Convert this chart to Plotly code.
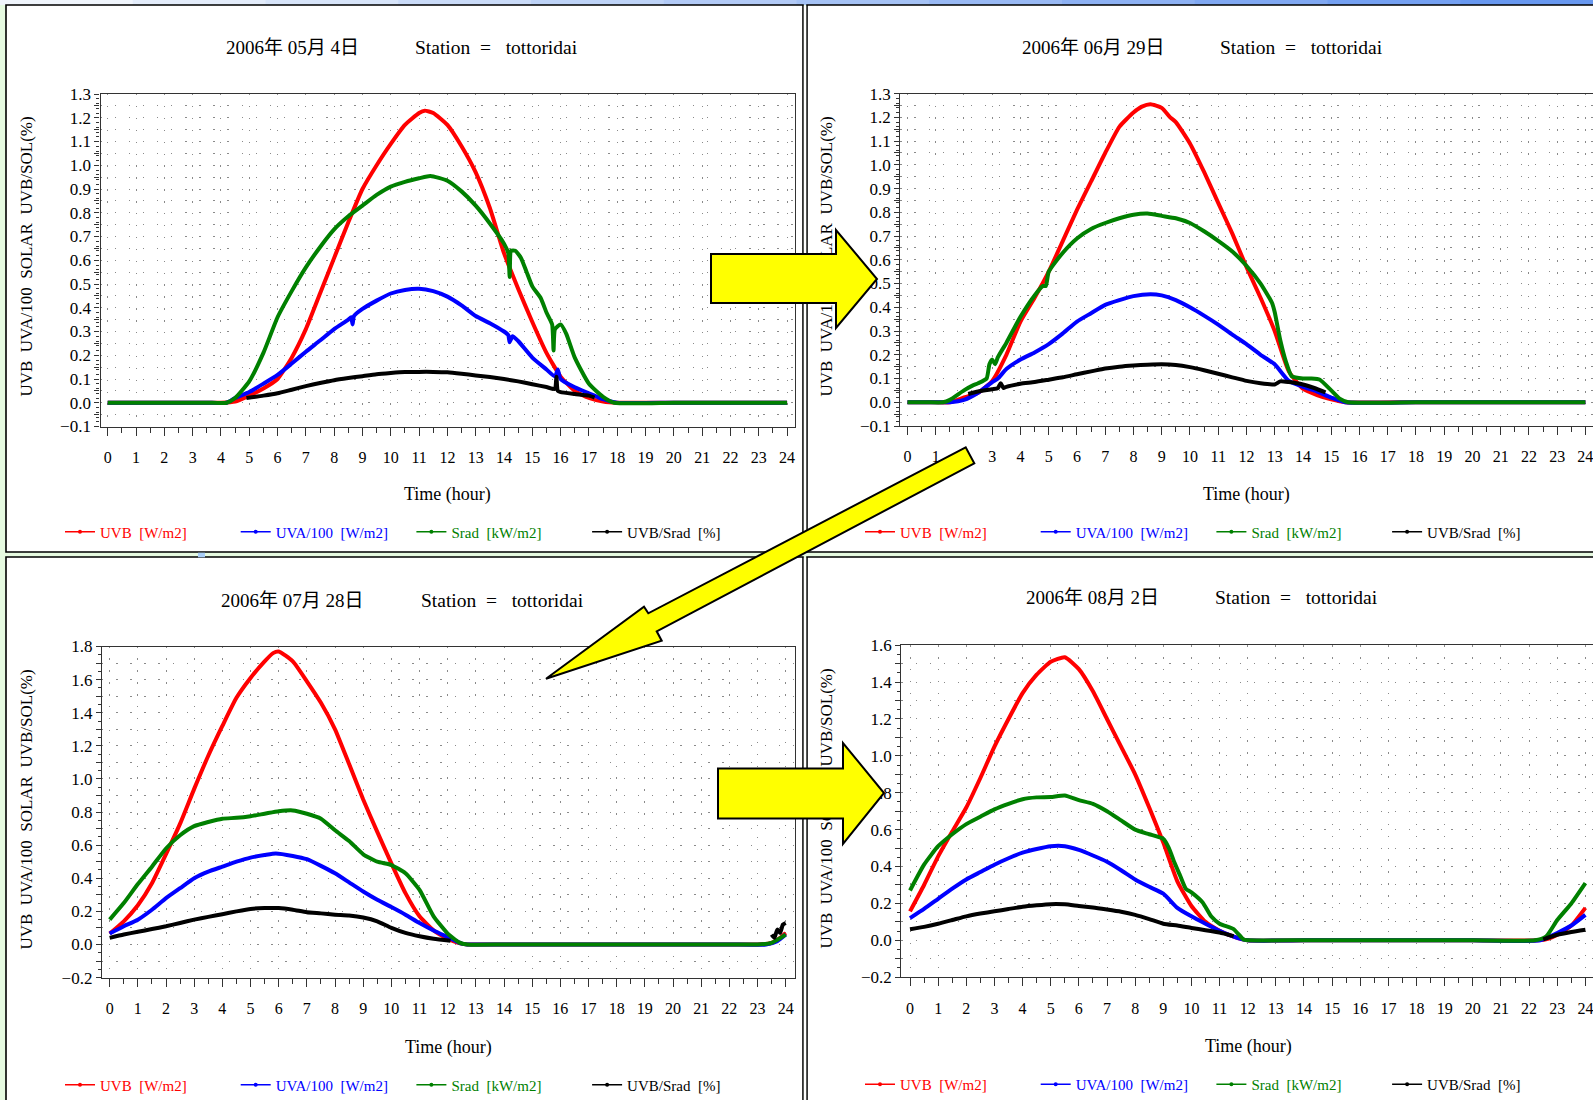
import plotly.graph_objects as go

W, H = 1593, 1100
FONT = "Liberation Serif, 'Noto Sans CJK JP', serif"
NB = "\u00a0"

# ---------------- data : 2006-05-04 ----------------
may04_uvb_h = [0, 2.0, 3.5, 4.0, 4.5, 5.0, 5.5, 6.0, 6.5, 7.0, 7.5, 8.0, 8.5, 9.0, 9.5, 10.0, 10.5, 11.0, 11.2,
               11.5, 12.0, 12.5, 13.0, 13.5, 14.0, 14.5, 15.0, 15.5, 16.0, 16.5, 17.0, 17.5, 18.0, 20.0, 22.0, 24]
may04_uvb = [0, 0, 0, 0, 0.005, 0.03, 0.06, 0.10, 0.19, 0.31, 0.46, 0.61, 0.76, 0.90, 1.00, 1.09, 1.17, 1.22,
             1.23, 1.22, 1.17, 1.08, 0.97, 0.82, 0.63, 0.48, 0.34, 0.21, 0.11, 0.05, 0.02, 0.005, 0, 0, 0, 0]
may04_uva_h = [0, 2.0, 3.5, 4.2, 4.5, 5.0, 5.5, 6.0, 6.5, 7.0, 7.5, 8.0, 8.5, 8.6, 8.65, 8.7, 9.0, 9.5, 10.0,
               10.5, 11.0, 11.5, 12.0, 12.5, 13.0, 13.5, 14.0, 14.15, 14.2, 14.3, 14.5, 15.0, 15.5, 15.8, 15.9,
               16.0, 16.5, 17.0, 17.5, 18.0, 20.0, 22.0, 24]
may04_uva = [0, 0, 0, 0, 0.02, 0.045, 0.08, 0.117, 0.165, 0.215, 0.262, 0.31, 0.35, 0.36, 0.33, 0.365, 0.395,
             0.43, 0.46, 0.475, 0.48, 0.47, 0.447, 0.41, 0.365, 0.335, 0.30, 0.285, 0.255, 0.28, 0.26, 0.19,
             0.14, 0.11, 0.14, 0.10, 0.065, 0.04, 0.015, 0, 0, 0, 0]
may04_srad_h = [0, 2.0, 3.5, 4.2, 4.5, 5.0, 5.5, 6.0, 6.5, 7.0, 7.5, 8.0, 8.5, 9.0, 9.5, 10.0, 10.5, 11.0, 11.4,
                12.0, 12.5, 13.0, 13.5, 14.0, 14.15, 14.2, 14.25, 14.4, 14.6, 14.8, 15.0, 15.3, 15.5, 15.7,
                15.75, 15.8, 16.0, 16.2, 16.5, 17.0, 17.5, 17.9, 20.0, 22.0, 24]
may04_srad = [0, 0, 0, 0, 0.02, 0.09, 0.21, 0.36, 0.47, 0.57, 0.655, 0.73, 0.785, 0.83, 0.875, 0.91, 0.93,
              0.945, 0.955, 0.935, 0.89, 0.83, 0.755, 0.67, 0.63, 0.53, 0.64, 0.64, 0.61, 0.55, 0.49, 0.44,
              0.38, 0.33, 0.22, 0.31, 0.33, 0.29, 0.19, 0.08, 0.025, 0, 0, 0, 0]
may04_ratio_h = [4.9, 5.5, 6.0, 6.5, 7.0, 7.5, 8.0, 8.5, 9.0, 9.5, 10.0, 10.5, 11.0, 11.5, 12.0, 12.5, 13.0,
                 13.5, 14.0, 14.5, 15.0, 15.5, 15.8, 15.85, 15.9, 16.0, 16.5, 17.0, 17.2]
may04_ratio = [0.02, 0.03, 0.04, 0.055, 0.07, 0.083, 0.095, 0.104, 0.112, 0.12, 0.125, 0.129, 0.13, 0.13,
               0.128, 0.122, 0.115, 0.108, 0.10, 0.09, 0.078, 0.066, 0.058, 0.11, 0.05, 0.045, 0.037, 0.03, 0.022]

# ---------------- data : 2006-06-29 ----------------
jun29_uvb_h = [0, 0.8, 1.5, 2.0, 2.5, 3.0, 3.5, 4.0, 4.5, 5.0, 5.5, 6.0, 6.5, 7.0, 7.5, 8.0, 8.3, 8.6, 9.0, 9.3,
               9.5, 10.0, 10.5, 11.0, 11.5, 12.0, 12.5, 13.0, 13.5, 14.0, 14.5, 15.0, 15.5, 18.0, 20.0, 22.0, 24]
jun29_uvb = [0, 0, 0, 0.02, 0.04, 0.09, 0.20, 0.34, 0.44, 0.55, 0.68, 0.81, 0.93, 1.05, 1.16, 1.22, 1.245,
             1.255, 1.24, 1.20, 1.18, 1.09, 0.97, 0.84, 0.71, 0.57, 0.44, 0.30, 0.13, 0.057, 0.03, 0.012, 0,
             0, 0, 0, 0]
jun29_uva_h = [0, 0.8, 1.5, 2.0, 2.5, 3.0, 3.2, 3.5, 4.0, 4.5, 5.0, 5.5, 6.0, 6.5, 7.0, 7.5, 8.0, 8.6, 9.0, 9.5,
               10.0, 10.5, 11.0, 11.5, 12.0, 12.5, 13.0, 13.5, 14.0, 14.5, 15.0, 15.5, 18.0, 20.0, 22.0, 24]
jun29_uva = [0, 0, 0, 0.01, 0.04, 0.085, 0.10, 0.14, 0.18, 0.21, 0.245, 0.29, 0.34, 0.375, 0.41, 0.43, 0.447,
             0.455, 0.45, 0.43, 0.40, 0.365, 0.327, 0.285, 0.245, 0.20, 0.16, 0.09, 0.065, 0.045, 0.02, 0,
             0, 0, 0, 0]
jun29_srad_h = [0, 0.7, 1.25, 1.5, 2.0, 2.3, 2.5, 2.8, 2.9, 3.0, 3.1, 3.2, 3.5, 4.0, 4.5, 4.8, 4.9, 5.0, 5.5,
                6.0, 6.5, 7.0, 7.5, 8.0, 8.5, 9.0, 9.5, 10.0, 10.5, 11.0, 11.5, 12.0, 12.5, 12.9, 13.0, 13.2,
                13.4, 13.6, 14.0, 14.3, 14.6, 15.0, 15.3, 15.6, 18.0, 20.0, 22.0, 24]
jun29_srad = [0, 0, 0, 0.01, 0.05, 0.07, 0.08, 0.10, 0.16, 0.18, 0.16, 0.19, 0.25, 0.36, 0.45, 0.49, 0.49,
              0.55, 0.63, 0.69, 0.73, 0.755, 0.775, 0.79, 0.795, 0.785, 0.775, 0.755, 0.72, 0.68, 0.635,
              0.575, 0.50, 0.42, 0.38, 0.26, 0.17, 0.11, 0.10, 0.10, 0.095, 0.05, 0.015, 0, 0, 0, 0, 0]
jun29_ratio_h = [2.15, 2.5, 3.0, 3.2, 3.3, 3.4, 3.5, 4.0, 4.5, 5.0, 5.5, 6.0, 6.5, 7.0, 7.5, 8.0, 8.5, 9.0, 9.5,
                 10.0, 10.5, 11.0, 11.5, 12.0, 12.5, 13.0, 13.2, 13.5, 14.0, 14.4, 14.8]
jun29_ratio = [0.035, 0.045, 0.055, 0.06, 0.08, 0.06, 0.065, 0.078, 0.085, 0.095, 0.105, 0.118, 0.13, 0.142,
               0.15, 0.155, 0.158, 0.16, 0.157, 0.148, 0.135, 0.12, 0.105, 0.09, 0.08, 0.075, 0.088, 0.085,
               0.075, 0.06, 0.042]

# ---------------- data : 2006-07-28 ----------------
jul28_uvb_h = [0, 0.5, 1.0, 1.5, 2.0, 2.5, 3.0, 3.5, 4.0, 4.5, 5.0, 5.5, 5.8, 6.0, 6.5, 7.0, 7.5, 8.0, 8.5, 9.0,
               9.5, 10.0, 10.5, 11.0, 11.5, 12.0, 12.4, 12.7, 14.0, 16.0, 18.0, 20.0, 22.0, 23.0, 23.5, 23.8,
               24.0]
jul28_uvb = [0.066, 0.14, 0.237, 0.37, 0.546, 0.73, 0.94, 1.14, 1.32, 1.49, 1.61, 1.71, 1.76, 1.77, 1.71, 1.59,
             1.46, 1.30, 1.09, 0.876, 0.68, 0.49, 0.31, 0.17, 0.085, 0.035, 0.008, 0, 0, 0, 0, 0, 0, 0, 0.01,
             0.04, 0.07]
jul28_uva_h = [0, 0.5, 1.0, 1.5, 2.0, 2.5, 3.0, 3.5, 4.0, 4.5, 5.0, 5.5, 5.9, 6.5, 7.0, 7.5, 8.0, 8.5, 9.0, 9.5,
               10.0, 10.5, 11.0, 11.5, 12.0, 12.5, 12.7, 14.0, 16.0, 18.0, 20.0, 22.0, 23.3, 23.7, 24.0]
jul28_uva = [0.066, 0.11, 0.15, 0.21, 0.28, 0.34, 0.40, 0.44, 0.47, 0.50, 0.525, 0.54, 0.55, 0.535, 0.515,
             0.475, 0.43, 0.375, 0.32, 0.27, 0.226, 0.18, 0.13, 0.085, 0.045, 0.005, 0, 0, 0, 0, 0, 0, 0,
             0.02, 0.06]
jul28_srad_h = [0, 0.5, 1.0, 1.5, 2.0, 2.5, 3.0, 3.5, 4.0, 4.5, 5.0, 5.5, 6.0, 6.5, 7.0, 7.5, 8.0, 8.5, 9.0,
                9.5, 10.0, 10.5, 11.0, 11.5, 12.0, 12.4, 12.7, 14.0, 16.0, 18.0, 20.0, 22.0, 23.0, 23.5, 24.0]
jul28_srad = [0.15, 0.25, 0.365, 0.47, 0.58, 0.66, 0.715, 0.74, 0.76, 0.765, 0.775, 0.79, 0.805, 0.81, 0.79,
              0.76, 0.69, 0.625, 0.545, 0.50, 0.48, 0.43, 0.33, 0.17, 0.066, 0.013, 0, 0, 0, 0, 0, 0, 0,
              0.01, 0.06]
jul28_ratio_h = [0, 0.5, 1.0, 1.5, 2.0, 2.5, 3.0, 3.5, 4.0, 4.5, 5.0, 5.5, 6.0, 6.5, 7.0, 7.5, 8.0, 8.5, 9.0,
                 9.5, 10.0, 10.5, 11.0, 11.5, 12.1, 18.0, 23.5, 23.6, 23.7, 23.8, 23.9, 24.0]
jul28_ratio = [0.04, 0.06, 0.077, 0.093, 0.11, 0.13, 0.15, 0.167, 0.183, 0.20, 0.215, 0.22, 0.22, 0.21, 0.195,
               0.188, 0.18, 0.175, 0.163, 0.14, 0.10, 0.07, 0.05, 0.035, 0.023, None, 0.06, 0.04, 0.09, 0.07,
               0.12, 0.13]

# ---------------- data : 2006-08-02 ----------------
aug02_uvb_h = [0, 0.5, 1.0, 1.5, 2.0, 2.5, 3.0, 3.5, 4.0, 4.5, 5.0, 5.5, 6.0, 6.5, 7.0, 7.5, 8.0, 8.5, 9.0, 9.5,
               10.0, 10.5, 11.0, 11.5, 12.0, 14.0, 16.0, 18.0, 20.0, 22.3, 22.7, 23.0, 23.5, 24.0]
aug02_uvb = [0.157, 0.30, 0.455, 0.59, 0.72, 0.88, 1.05, 1.20, 1.34, 1.44, 1.51, 1.535, 1.47, 1.35, 1.20, 1.05,
             0.90, 0.72, 0.53, 0.32, 0.186, 0.10, 0.052, 0.02, 0, 0, 0, 0, 0, 0, 0.01, 0.03, 0.08, 0.176]
aug02_uva_h = [0, 0.5, 1.0, 1.5, 2.0, 2.5, 3.0, 3.5, 4.0, 4.5, 5.0, 5.5, 6.0, 6.5, 7.0, 7.5, 8.0, 8.5, 9.0, 9.5,
               10.0, 10.5, 11.0, 11.5, 12.0, 14.0, 16.0, 18.0, 20.0, 22.4, 23.0, 23.5, 24.0]
aug02_uva = [0.12, 0.17, 0.225, 0.28, 0.33, 0.37, 0.41, 0.445, 0.475, 0.495, 0.51, 0.51, 0.49, 0.46, 0.426,
             0.38, 0.33, 0.29, 0.253, 0.176, 0.13, 0.09, 0.052, 0.02, 0, 0, 0, 0, 0, 0, 0.04, 0.08, 0.138]
aug02_srad_h = [0, 0.5, 1.0, 1.5, 2.0, 2.5, 3.0, 3.5, 4.0, 4.5, 5.0, 5.5, 6.0, 6.5, 7.0, 7.5, 8.0, 8.5, 9.0,
                9.2, 9.4, 9.6, 9.8, 10.0, 10.4, 10.7, 11.0, 11.5, 11.85, 12.0, 14.0, 16.0, 18.0, 20.0, 22.2,
                22.6, 23.0, 23.5, 24.0]
aug02_srad = [0.27, 0.41, 0.51, 0.575, 0.63, 0.67, 0.71, 0.74, 0.765, 0.775, 0.777, 0.785, 0.76, 0.74, 0.70,
              0.65, 0.60, 0.575, 0.55, 0.50, 0.42, 0.35, 0.28, 0.26, 0.205, 0.13, 0.09, 0.061, 0.004, 0, 0, 0,
              0, 0, 0, 0.02, 0.11, 0.20, 0.31]
aug02_ratio_h = [0, 0.5, 1.0, 1.5, 2.0, 2.5, 3.0, 3.5, 4.0, 4.5, 5.0, 5.5, 6.0, 6.5, 7.0, 7.5, 8.0, 8.5, 9.0,
                 9.5, 10.0, 10.5, 11.0, 11.5, 18.0, 22.5, 23.0, 23.5, 24.0]
aug02_ratio = [0.06, 0.073, 0.09, 0.11, 0.13, 0.145, 0.157, 0.17, 0.182, 0.19, 0.196, 0.195, 0.186, 0.178,
               0.167, 0.155, 0.138, 0.115, 0.09, 0.08, 0.067, 0.055, 0.042, 0.023, None, 0.005, 0.03, 0.045,
               0.057]

# ---------------- labels ----------------
series_names = ["UVB [W/m2]", "UVA/100 [W/m2]", "Srad [kW/m2]", "UVB/Srad [%]"]
series_colors = ["#ff0000", "#0000ff", "#008000", "#000000"]
panel_dates = ["2006年 05月 4日", "2006年 06月 29日", "2006年 07月 28日", "2006年 08月 2日"]
station_name = "tottoridai"
x_title = "Time (hour)"
y_title = "UVB  UVA/100  SOLAR  UVB/SOL(%)"
hour_ticks = list(range(0, 25))

panel_data = [
    [(may04_uvb_h, may04_uvb), (may04_uva_h, may04_uva), (may04_srad_h, may04_srad), (may04_ratio_h, may04_ratio)],
    [(jun29_uvb_h, jun29_uvb), (jun29_uva_h, jun29_uva), (jun29_srad_h, jun29_srad), (jun29_ratio_h, jun29_ratio)],
    [(jul28_uvb_h, jul28_uvb), (jul28_uva_h, jul28_uva), (jul28_srad_h, jul28_srad), (jul28_ratio_h, jul28_ratio)],
    [(aug02_uvb_h, aug02_uvb), (aug02_uva_h, aug02_uva), (aug02_srad_h, aug02_srad), (aug02_ratio_h, aug02_ratio)],
]

# ---------------- layout geometry (pixels) ----------------
def px(x):
    return x / W


def py(y):
    return 1 - y / H


panel_geo = [
    dict(xd=(100.5, 795), yd=(94, 426.5), xr=(-0.255, 24.28), yr=(-0.1, 1.3), lab=0.1, grid=0.05, minor=0.02,
         title_y=47.5, date_x=292, stat_x=497, xt=(447.5, 495), yt=(25.5, 259), leg=(60, 532)),
    dict(xd=(900.3, 1593), yd=(93.6, 426), xr=(-0.255, 24.27), yr=(-0.1, 1.3), lab=0.1, grid=0.05, minor=0.02,
         title_y=47.5, date_x=1093, stat_x=1301, xt=(1246.5, 495), yt=(825.5, 259), leg=(860, 532)),
    dict(xd=(102, 795), yd=(646.5, 977.6), xr=(-0.273, 24.33), yr=(-0.2, 1.8), lab=0.2, grid=0.1, minor=0.05,
         title_y=600, date_x=292.5, stat_x=502, xt=(448.5, 1047.5), yt=(25.5, 812), leg=(60, 1085)),
    dict(xd=(901.4, 1593), yd=(645.2, 977.2), xr=(-0.306, 24.27), yr=(-0.2, 1.6), lab=0.2, grid=0.1, minor=0.05,
         title_y=598, date_x=1092, stat_x=1296.5, xt=(1248, 1046.5), yt=(825.5, 811), leg=(860, 1084.5)),
]

fig = go.Figure()
layout = dict(
    width=W, height=H, margin=dict(l=0, r=0, t=0, b=0, pad=0, autoexpand=False),
    paper_bgcolor="#e6fae0", plot_bgcolor="rgba(0,0,0,0)",
    font=dict(family=FONT, color="#000000"),
    showlegend=True, annotations=[], shapes=[],
)

AX = "#333333"
for i, g in enumerate(panel_geo):
    n = "" if i == 0 else str(i + 1)
    xa, ya = "x" + n, "y" + n
    lo, hi = g["yr"]
    k0, k1 = round(lo / g["grid"]), round(hi / g["grid"])
    ratio = round(g["lab"] / g["grid"])
    tv, tt = [], []
    for k in range(k0, k1 + 1):
        v = round(k * g["grid"], 4)
        tv.append(v)
        tt.append(f"{v:.1f}".replace("-", "\u2212") if k % ratio == 0 else "")
    layout["xaxis" + n] = dict(
        domain=[px(g["xd"][0]), px(g["xd"][1])], range=list(g["xr"]), anchor=ya, automargin=False,
        tickmode="array", tickvals=hour_ticks, ticktext=[str(h) for h in hour_ticks],
        ticks="outside", ticklen=8, tickwidth=1.3, tickcolor=AX, ticklabelstandoff=8,
        ticklabeloverflow="allow",
        tickfont=dict(family=FONT, size=16, color="#000"),
        showline=True, mirror=True, linecolor=AX, linewidth=1.3,
        showgrid=True, gridcolor="#8a8a8a", gridwidth=1.4, griddash="1.4px,10.5px",
        minor=dict(tickmode="linear", tick0=0, dtick=0.5, ticks="outside", ticklen=5, tickcolor=AX,
                   tickwidth=1.2, showgrid=False),
        zeroline=False, fixedrange=True,
    )
    layout["yaxis" + n] = dict(
        domain=[py(g["yd"][1]), py(g["yd"][0])], range=list(g["yr"]), anchor=xa, automargin=False,
        tickmode="array", tickvals=tv, ticktext=tt,
        ticks="outside", ticklen=5, tickwidth=1.2, tickcolor=AX,
        tickfont=dict(family=FONT, size=17, color="#000"),
        showline=True, mirror=True, linecolor=AX, linewidth=1.3,
        showgrid=True, gridcolor="#8a8a8a", gridwidth=1.4, griddash="1.4px,12.7px",
        minor=dict(tickmode="linear", tick0=0, dtick=g["minor"], ticks="outside", ticklen=3, tickcolor=AX,
                   tickwidth=1, showgrid=False),
        zeroline=False, fixedrange=True,
    )
    # y-axis title carried by a free overlaying axis (kept under the overlay arrows)
    tn = str(i + 5)
    ycen = (g["yd"][1] - g["yt"][1]) / (g["yd"][1] - g["yd"][0])
    layout["yaxis" + tn] = dict(
        overlaying=ya, anchor="free", position=px(g["yt"][0] + 10), side="left", range=[0, 1],
        automargin=False, tickmode="array", tickvals=[ycen], ticktext=[y_title.replace(" ", NB)],
        tickangle=-90, ticks="", showgrid=False, showline=False, zeroline=False, fixedrange=True,
        tickfont=dict(family=FONT, size=17, color="#000"),
    )
    legname = "legend" if i == 0 else "legend" + str(i + 1)
    layout[legname] = dict(
        orientation="h", x=px(g["leg"][0]), y=py(g["leg"][1]), xanchor="left", yanchor="middle",
        bgcolor="rgba(0,0,0,0)", borderwidth=0, entrywidth=130.7, entrywidthmode="pixels",
        itemwidth=30, font=dict(family=FONT, size=15), itemclick=False, itemdoubleclick=False,
    )
    fig.add_trace(go.Scatter(x=[None], y=[None], xaxis=xa, yaxis="y" + tn, showlegend=False,
                             hoverinfo="skip", mode="lines"))
    for (hx, vy), name, col in zip(panel_data[i], series_names, series_colors):
        fig.add_trace(go.Scatter(
            x=hx, y=vy, mode="lines", line=dict(color=col, width=4, shape="spline", smoothing=0.5),
            xaxis=xa, yaxis=ya, showlegend=False, hoverinfo="skip", name=name,
        ))
    for name, col in zip(series_names, series_colors):
        fig.add_trace(go.Scatter(
            x=[None], y=[None], mode="lines+markers", xaxis=xa, yaxis=ya,
            line=dict(color=col, width=1.5), marker=dict(color=col, size=4),
            name=f"<span style='color:{col}'>{name.replace(' ', NB + NB)}</span>",
            legend=legname, showlegend=True,
        ))
    layout["annotations"] += [
        dict(text=panel_dates[i].replace(" ", NB), x=px(g["date_x"]), y=py(g["title_y"]), xref="paper",
             yref="paper", showarrow=False, xanchor="center", yanchor="middle",
             font=dict(family=FONT, size=19)),
        dict(text=f"Station{NB}{NB}={NB}{NB}{NB}{station_name}", x=px(g["stat_x"]), y=py(g["title_y"]),
             xref="paper", yref="paper", showarrow=False, xanchor="center", yanchor="middle",
             font=dict(family=FONT, size=19.5)),
        dict(text=x_title, x=px(g["xt"][0]), y=py(g["xt"][1]), xref="paper", yref="paper", showarrow=False,
             xanchor="center", yanchor="middle", font=dict(family=FONT, size=18)),
    ]

# ---------------- decorations ----------------
shapes = []
nb = 12
for k in range(nb):
    t = k / (nb - 1)
    r = int(240 + (104 - 240) * t)
    gcol = int(245 + (152 - 245) * t)
    b = int(252 + (240 - 252) * t)
    shapes.append(dict(type="rect", xref="paper", yref="paper", x0=px(W * k / nb), x1=px(W * (k + 1) / nb + 1),
                       y0=py(5), y1=py(0), fillcolor=f"rgb({r},{gcol},{b})", line=dict(width=0), layer="below"))
for (x0, x1, y0, y1) in [(6, 803, 5, 552), (807, 1610, 5, 552), (6, 803, 557, 1120), (807, 1610, 557, 1120)]:
    shapes.append(dict(type="rect", xref="paper", yref="paper", x0=px(x0), x1=px(x1), y0=py(y1), y1=py(y0),
                       fillcolor="#ffffff", line=dict(color="#000000", width=1.6), layer="below"))
for (y0, y1) in [(5.8, 551.2), (557.8, 1120)]:
    shapes.append(dict(type="rect", xref="paper", yref="paper", x0=px(803.8), x1=px(806.2), y0=py(y1),
                       y1=py(y0), fillcolor="#ffffff", line=dict(width=0), layer="below"))
shapes.append(dict(type="rect", xref="paper", yref="paper", x0=px(198), x1=px(205), y0=py(557.3), y1=py(552.7),
                   fillcolor="#a8cdf8", line=dict(width=0), layer="below"))


def poly(points):
    return "M " + " L ".join(f"{px(x):.5f},{py(y):.5f}" for x, y in points) + " Z"


arrow_pts = [
    [(711, 254), (836, 254), (836, 230), (877, 279), (836, 328), (836, 303), (711, 303)],
    [(718, 768.5), (843, 768.5), (843, 743), (884, 793), (843, 844), (843, 818.5), (718, 818.5)],
    [(965.7, 447.3), (648.3, 613.3), (644.0, 606.7), (546.0, 678.7), (661.7, 640.7), (656.7, 631.3),
     (974.3, 463.3)],
]
for pts in arrow_pts:
    shapes.append(dict(type="path", xref="paper", yref="paper", path=poly(pts), fillcolor="#ffff00",
                       line=dict(color="#000000", width=2), layer="above"))

layout["shapes"] = shapes
fig.update_layout(**layout)

fig.write_html("out.html", config=dict(displayModeBar=False),
               post_script="document.body.style.margin='0';document.body.style.overflow='hidden';")
